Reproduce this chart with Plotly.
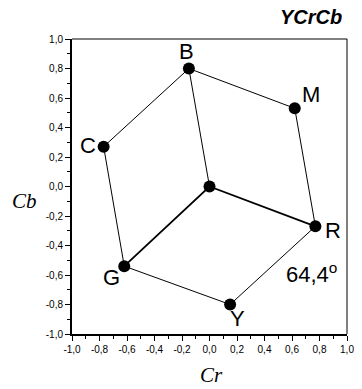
import plotly.graph_objects as go

# Data
names = ["B", "M", "R", "Y", "G", "C"]
cr = [-0.15, 0.62, 0.77, 0.15, -0.62, -0.77]
cb = [0.80, 0.53, -0.27, -0.80, -0.54, 0.27]
center = (0.0, 0.0)
angle_label = "64,4<sup>o</sup>"
tick_vals = [-1.0, -0.8, -0.6, -0.4, -0.2, 0.0, 0.2, 0.4, 0.6, 0.8, 1.0]
tick_text = ["-1,0", "-0,8", "-0,6", "-0,4", "-0,2", "0,0", "0,2", "0,4", "0,6", "0,8", "1,0"]

fig = go.Figure()

# Hexagon outline
fig.add_trace(go.Scatter(x=cr + [cr[0]], y=cb + [cb[0]], mode="lines",
                         line=dict(color="black", width=1), hoverinfo="skip"))
# Spokes from center
idx = {n: i for i, n in enumerate(names)}
fig.add_trace(go.Scatter(x=[center[0], cr[idx["B"]]], y=[center[1], cb[idx["B"]]], mode="lines",
                         line=dict(color="black", width=1), hoverinfo="skip"))
fig.add_trace(go.Scatter(x=[cr[idx["G"]], center[0], cr[idx["R"]]],
                         y=[cb[idx["G"]], center[1], cb[idx["R"]]], mode="lines",
                         line=dict(color="black", width=1.8), hoverinfo="skip"))
# Points
fig.add_trace(go.Scatter(x=cr + [center[0]], y=cb + [center[1]], mode="markers",
                         marker=dict(color="black", size=12), hoverinfo="skip"))

label_font = dict(family="Liberation Sans, Arial", size=22, color="black")
label_pos = {"B": (-0.17, 0.912), "M": (0.738, 0.627), "C": (-0.887, 0.281),
             "R": (0.901, -0.295), "G": (-0.716, -0.614), "Y": (0.206, -0.898)}
for n, (lx, ly) in label_pos.items():
    fig.add_annotation(x=lx, y=ly, text=n, showarrow=False, font=label_font,
                       xanchor="center", yanchor="middle")
fig.add_annotation(x=0.745, y=-0.586, text=angle_label, showarrow=False, font=label_font,
                   xanchor="center", yanchor="middle")

# Title
fig.add_annotation(xref="paper", yref="paper", x=1.0, y=1.073, xshift=-3, text="<b><i>YCrCb</i></b>",
                   showarrow=False, font=dict(family="Liberation Sans, Arial", size=20, color="black"),
                   xanchor="right", yanchor="middle")
# Axis titles
axis_title_font = dict(family="Liberation Serif, Times New Roman", size=21, color="black")
fig.add_annotation(xref="paper", yref="paper", x=0.507, y=-0.139, text="<i>Cr</i>", showarrow=False,
                   font=axis_title_font, xanchor="center", yanchor="middle")
fig.add_annotation(xref="paper", yref="paper", x=-0.172, y=0.451, text="<i>Cb</i>", showarrow=False,
                   font=axis_title_font, xanchor="center", yanchor="middle")

# Top/right frame lines (thin)
fig.add_shape(type="line", xref="paper", yref="paper", x0=0, x1=1, y0=1, y1=1,
              line=dict(color="black", width=1))
fig.add_shape(type="line", xref="paper", yref="paper", x0=1, x1=1, y0=0, y1=1,
              line=dict(color="black", width=1))

axis_common = dict(range=[-1, 1], tickvals=tick_vals, ticktext=tick_text, ticks="outside",
                   ticklen=5, tickwidth=1, tickcolor="black", showline=True, linecolor="black",
                   linewidth=2, showgrid=False, zeroline=False,
                   tickfont=dict(family="Liberation Sans, Arial", size=10, color="black"),
                   minor=dict(ticks="outside", ticklen=3, tickwidth=1, tickcolor="black",
                              dtick=0.1, tick0=0, showgrid=False))

fig.update_xaxes(**axis_common)
fig.update_yaxes(**axis_common)

fig.update_layout(width=362, height=389, margin=dict(l=72, r=8, t=39, b=55),
                  plot_bgcolor="white", paper_bgcolor="white", showlegend=False)

fig.write_html("out.html", config={"displayModeBar": False},
               post_script="document.body.style.margin='0';document.body.style.overflow='hidden';")
